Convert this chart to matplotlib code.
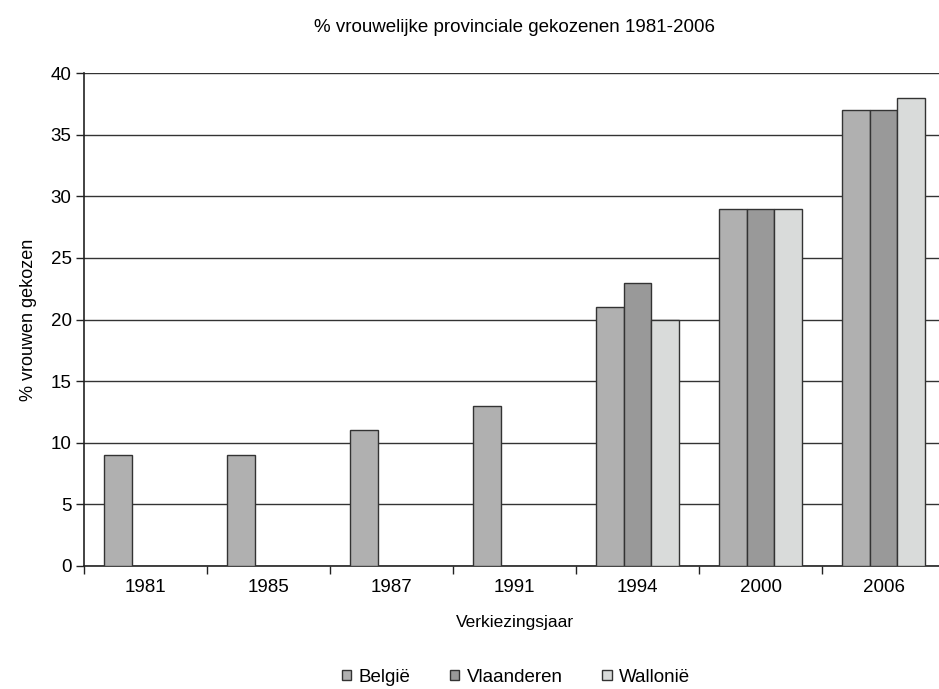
import numpy as np
import matplotlib
matplotlib.use('Agg')
import matplotlib.pyplot as plt

plt.rcParams['font.family'] = ['Liberation Sans Narrow', 'Liberation Sans', 'DejaVu Sans']

#%% data
jaren = ['1981', '1985', '1987', '1991', '1994', '2000', '2006']
belgie = [9, 9, 11, 13, 21, 29, 37]
vlaanderen = [0, 0, 0, 0, 23, 29, 37]
wallonie = [0, 0, 0, 0, 20, 29, 38]
reeksen = ['België', 'Vlaanderen', 'Wallonië']
kleuren = ['#b0b0b0', '#999999', '#d9dbda']

#%% plot
fig = plt.figure(figsize=(9.39, 6.89), dpi=100)
ax = fig.add_axes([84/939, 1-566/689, 861/939, 493/689])

x = np.arange(len(jaren))
w = 0.225
for i, (vals, lab, c) in enumerate(zip([belgie, vlaanderen, wallonie], reeksen, kleuren)):
    vals = np.array(vals, dtype=float)
    mask = vals > 0
    ax.bar(x[mask] + (i - 1) * w, vals[mask], width=w, color=c,
           edgecolor='#333333', linewidth=1.0, label=lab, zorder=3)

ax.set_xlim(-0.5, len(jaren) - 0.5)
ax.set_ylim(0, 40)
ax.set_yticks(range(0, 41, 5))
ax.yaxis.grid(True, color='#333333', linewidth=1.0, zorder=0)
ax.set_axisbelow(True)

ax.set_xticks(x)
ax.set_xticklabels(jaren, fontsize=13.5)
ax.set_xticks(np.arange(len(jaren) + 1) - 0.5, minor=True)
ax.tick_params(axis='x', which='major', length=0, pad=9)
ax.tick_params(axis='x', which='minor', length=6, width=1, color='#222222')
ax.tick_params(axis='y', labelsize=13.5, length=6, width=1, color='#222222', pad=3)

for s in ['top', 'right']:
    ax.spines[s].set_visible(False)
for s in ['left', 'bottom']:
    ax.spines[s].set_color('#222222')
    ax.spines[s].set_linewidth(1.2)

ax.set_ylabel('% vrouwen gekozen', fontsize=13, labelpad=10)
ax.set_xlabel('Verkiezingsjaar', fontsize=12.5, labelpad=14)
fig.text(514/939, 1-28/689, '% vrouwelijke provinciale gekozenen 1981-2006',
         ha='center', va='center', fontsize=13.5)

fig.legend(loc='center', bbox_to_anchor=(516/939, 1-677/689), ncol=3, frameon=False,
           fontsize=13.5, handlelength=0.5, handleheight=0.5, handletextpad=0.4,
           columnspacing=2.1)

plt.savefig('out.png', dpi=100)
